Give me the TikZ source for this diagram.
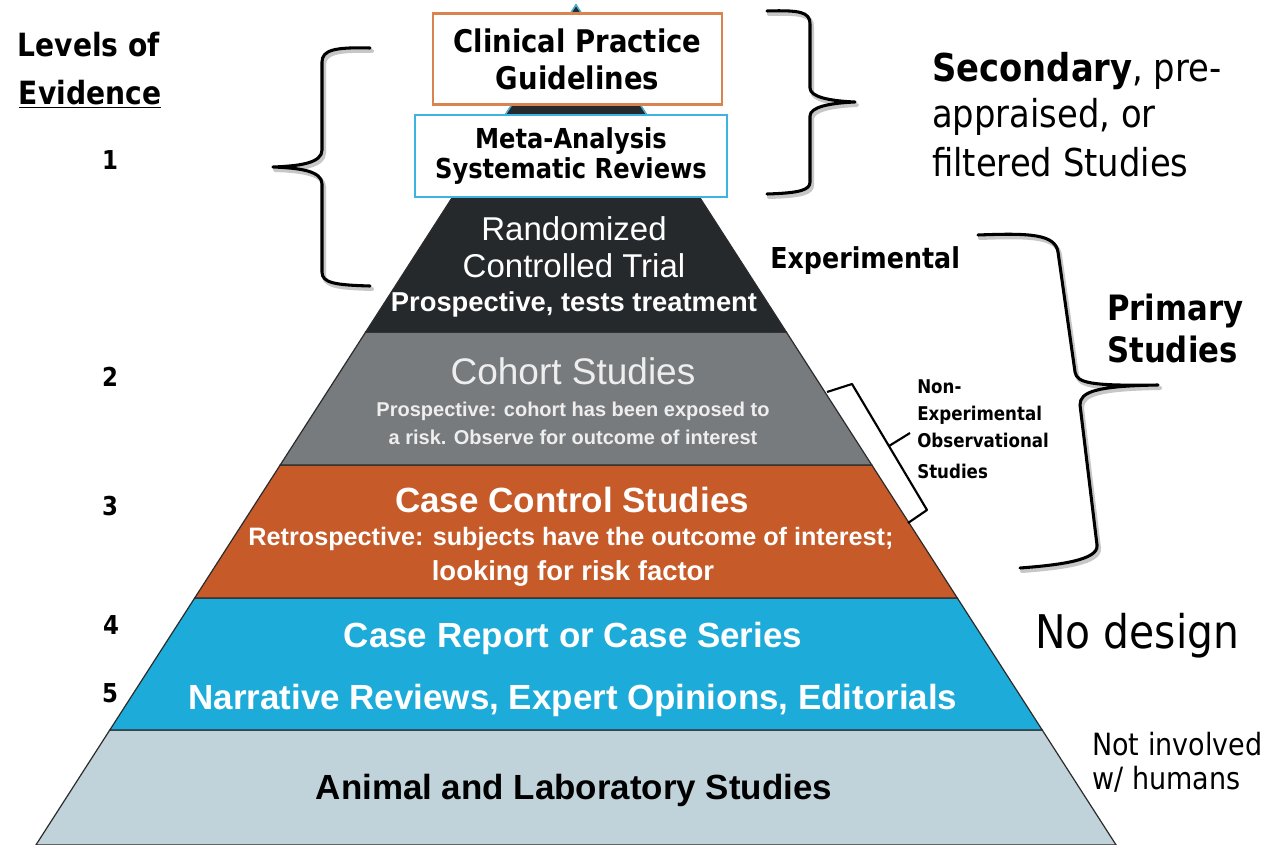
\documentclass[tikz,border=0pt]{standalone}
\usepackage{fontspec}
\setmainfont{Liberation Sans}
\newfontfamily\tah[FakeStretch=0.88]{DejaVu Sans}
\definecolor{rct}{HTML}{25292C}
\definecolor{coh}{HTML}{777B7E}
\definecolor{ccs}{HTML}{C65A28}
\definecolor{crs}{HTML}{1DABDA}
\definecolor{ani}{HTML}{C0D2DA}
\definecolor{cpgline}{HTML}{D9834F}
\definecolor{maline}{HTML}{3CB3E1}
\definecolor{edge}{HTML}{2B2B2B}
\definecolor{cohtext}{HTML}{EEEEEE}
\newcommand\fsz[1]{\fontsize{#1}{#1}\selectfont}
\begin{document}
\begin{tikzpicture}[x=0.75pt,y=-0.75pt,
  lyr/.style={draw=edge, line width=0.9pt},
  txt/.style={inner sep=0pt, anchor=base},
  ltxt/.style={inner sep=0pt, anchor=base west},
  brc/.style={line width=2.3pt, line cap=round, line join=round},
  brcshadow/.style={line width=3pt, draw=black!22, line cap=round, line join=round, shift={(2,3)}},
  box/.style={draw, line width=1.6pt, fill=white, inner sep=0pt, align=center}]
\useasboundingbox (0,0) rectangle (1266,845);
\fill[white] (0,0) rectangle (1266,845);

% pyramid layers
\filldraw[lyr, fill=ani] (109.8,730) -- (1042.2,730) -- (1116.1,845) -- (35.9,845) -- cycle;
\filldraw[lyr, fill=crs] (194.7,598) -- (957.3,598) -- (1042.2,730) -- (109.8,730) -- cycle;
\filldraw[lyr, fill=ccs] (280.2,465) -- (871.8,465) -- (957.3,598) -- (194.7,598) -- cycle;
\filldraw[lyr, fill=coh] (365.7,332) -- (786.3,332) -- (871.8,465) -- (280.2,465) -- cycle;
\filldraw[lyr, fill=rct] (576,5) -- (786.3,332) -- (365.7,332) -- cycle;
\draw[maline, line width=1pt] (453.8,195) -- (576,5) -- (698.2,195);

% top boxes
\node[box, draw=cpgline, minimum width=216.75pt, minimum height=68.25pt,
  font={\tah\bfseries\fontsize{23.4}{27.75}\selectfont}] (cpg) at (577.5,59)
  {Clinical Practice\\Guidelines};
\node[box, draw=maline, minimum width=234pt, minimum height=61.5pt,
  font={\tah\bfseries\fontsize{20.6}{22.5}\selectfont}] (meta) at (571,156)
  {Meta-Analysis\\Systematic Reviews};

% left labels
\node[txt] (lev1) at (89,57) {\tah\bfseries\fsz{24}Levels of};
\node[txt] (lev2) at (90,105) {\tah\bfseries\fsz{24}\underline{Evidence}};
\node[txt] (n1) at (110,170) {\tah\bfseries\fsz{19.5}1};
\node[txt] (n2) at (110,386) {\tah\bfseries\fsz{19.5}2};
\node[txt] (n3) at (110,515) {\tah\bfseries\fsz{19.5}3};
\node[txt] (n4) at (111,634) {\tah\bfseries\fsz{19.5}4};
\node[txt] (n5) at (110,702) {\tah\bfseries\fsz{19.5}5};

% pyramid texts
\node[txt, text=white] (rct1) at (574,240) {\fsz{24.75}Randomized};
\node[txt, text=white] (rct2) at (574,277) {\fsz{24.75}Controlled Trial};
\node[txt, text=white] (rct3) at (574,311) {\bfseries\fsz{20.5}Prospective, tests treatment};
\node[txt, text=cohtext] (coh1) at (573,384) {\fsz{27.75}Cohort Studies};
\node[txt, text=cohtext] (coh2) at (573,416) {\bfseries\fsz{15}Prospective: cohort has been exposed to};
\node[txt, text=cohtext] (coh3) at (573,444) {\bfseries\fsz{15}a risk. Observe for outcome of interest};
\node[txt, text=white] (ccs1) at (572,512) {\bfseries\fsz{26.25}Case Control Studies};
\node[txt, text=white] (ccs2) at (571,545) {\bfseries\fsz{18.9}Retrospective: subjects have the outcome of interest;};
\node[txt, text=white] (ccs3) at (573,580) {\bfseries\fsz{20.6}looking for risk factor};
\node[txt, text=white] (crs1) at (573,647) {\bfseries\fsz{26.2}Case Report or Case Series};
\node[txt, text=white] (crs2) at (573,709) {\bfseries\fsz{26.2}Narrative Reviews, Expert Opinions, Editorials};
\node[txt, text=black] (ani1) at (574,799) {\bfseries\fsz{26.2}Animal and Laboratory Studies};

% right labels
\node[ltxt] (sec1) at (932,82) {\tah\fsz{28.8}\textbf{Secondary}, pre-};
\node[ltxt] (sec2) at (932,128) {\tah\fsz{28.8}appraised, or};
\node[ltxt] (sec3) at (932,176) {\tah\fsz{28.8}filtered Studies};
\node[ltxt] (exp) at (770,268) {\tah\bfseries\fsz{21.6}Experimental};
\node[ltxt] (pri1) at (1107,320) {\tah\bfseries\fsz{26.2}Primary};
\node[ltxt] (pri2) at (1107,362) {\tah\bfseries\fsz{26.2}Studies};
\node[ltxt] (ne1) at (917,393) {\tah\bfseries\fsz{14.2}Non-};
\node[ltxt] (ne2) at (917,420) {\tah\bfseries\fsz{14.2}Experimental};
\node[ltxt] (ne3) at (917,447) {\tah\bfseries\fsz{14.2}Observational};
\node[ltxt] (ne4) at (917,478) {\tah\bfseries\fsz{14.2}Studies};
\node[ltxt] (nod) at (1035,648) {\tah\fsz{34.8}No design};
\node[ltxt] (hum1) at (1092,755) {\tah\fsz{23}Not involved};
\node[ltxt] (hum2) at (1092,789) {\tah\fsz{23}w/ humans};

% braces
\foreach \st in {brcshadow,brc}{
% left (level 1)
\draw[\st] (370,48) .. controls (335,47) and (322,50) .. (322,62) -- (322,150)
  .. controls (322,163) and (300,166) .. (273,167)
  .. controls (300,168) and (322,171) .. (322,184) -- (322,272)
  .. controls (322,283) and (335,285) .. (370,286);
% top right (secondary)
\draw[\st] (767,11) .. controls (800,10) and (810,12) .. (810,24) -- (810,88)
  .. controls (810,97) and (830,101) .. (855,102)
  .. controls (830,103) and (810,107) .. (810,116) -- (810,182)
  .. controls (810,190) and (800,193) .. (767,194);
% primary
\draw[\st] (978,235) .. controls (1030,233) and (1055,234) .. (1058,252) -- (1075,372)
  .. controls (1077,383) and (1090,386) .. (1158,385)
  .. controls (1095,386) and (1080,392) .. (1080,405) -- (1097,545)
  .. controls (1099,560) and (1060,565) .. (1020,568);
}
% small bracket (non-experimental)
\draw[line width=1.6pt, line join=round] (827,392) -- (852,384) -- (927,510) -- (908,523);
\draw[line width=1.6pt] (889,446) -- (910,433);
\end{tikzpicture}
\end{document}
